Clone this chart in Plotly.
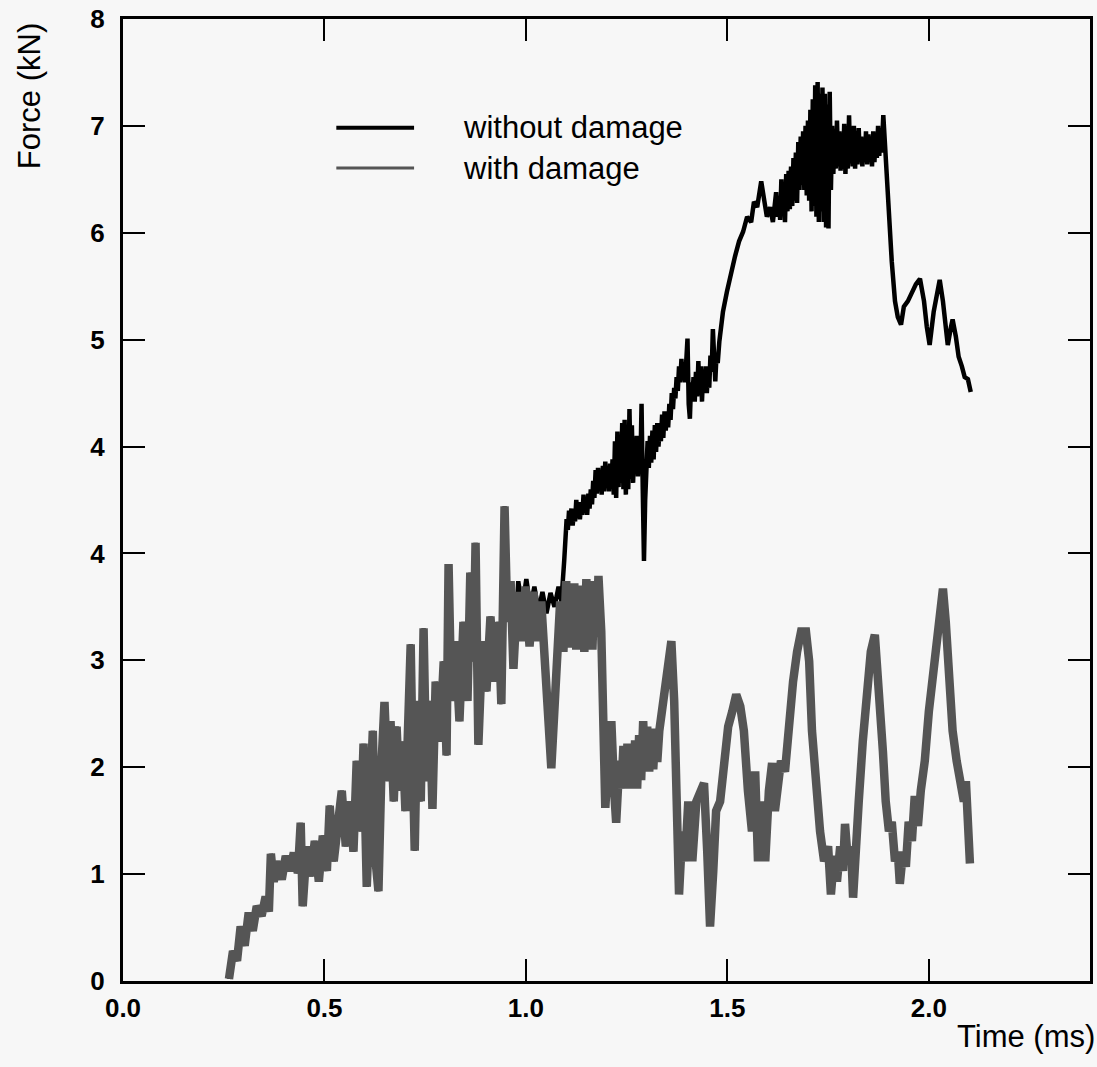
import plotly.graph_objects as go

# ---- data (time in ms, force in axis units; y tick labels reproduce the original scale labels) ----
t_with = [0.263, 0.273, 0.283, 0.292, 0.302, 0.312, 0.322, 0.332, 0.344, 0.354, 0.362, 0.367, 0.374, 0.384,
          0.394, 0.404, 0.414, 0.424, 0.434, 0.441, 0.446, 0.456, 0.466, 0.476, 0.486, 0.496, 0.506, 0.513,
          0.523, 0.533, 0.543, 0.553, 0.563, 0.572, 0.580, 0.590, 0.597, 0.605, 0.612, 0.620, 0.627, 0.634,
          0.642, 0.649, 0.657, 0.664, 0.672, 0.679, 0.686, 0.694, 0.701, 0.709, 0.714, 0.719, 0.724, 0.731,
          0.739, 0.746, 0.753, 0.761, 0.768, 0.776, 0.786, 0.796, 0.803, 0.808, 0.815, 0.825, 0.835, 0.845,
          0.855, 0.862, 0.870, 0.875, 0.882, 0.892, 0.902, 0.912, 0.922, 0.932, 0.939, 0.947, 0.954, 0.962,
          0.969, 0.979, 0.989, 0.999, 1.009, 1.019, 1.028, 1.038, 1.048, 1.056, 1.063, 1.071, 1.078, 1.085,
          1.093, 1.100, 1.105, 1.110, 1.115, 1.120, 1.125, 1.130, 1.135, 1.140, 1.145, 1.150, 1.155, 1.160,
          1.165, 1.170, 1.175, 1.180, 1.187, 1.192, 1.197, 1.204,
          1.212, 1.219, 1.224, 1.232, 1.237, 1.242, 1.247, 1.252, 1.257, 1.261, 1.266, 1.271, 1.276, 1.281,
          1.286, 1.291, 1.296, 1.301, 1.306, 1.311, 1.316, 1.321, 1.326, 1.331,
          1.341, 1.351, 1.361, 1.368, 1.375, 1.380, 1.388, 1.395, 1.403, 1.413, 1.423, 1.432, 1.442, 1.450,
          1.457, 1.465, 1.472, 1.482, 1.492, 1.502, 1.512, 1.522, 1.532, 1.541, 1.551, 1.561, 1.569, 1.576,
          1.586, 1.594, 1.603, 1.611, 1.618, 1.626, 1.633, 1.643, 1.653, 1.663, 1.673, 1.683, 1.695, 1.703,
          1.710, 1.720, 1.730, 1.740, 1.750, 1.757, 1.765, 1.772, 1.780, 1.787, 1.792, 1.799, 1.807, 1.812,
          1.819, 1.826, 1.836, 1.846, 1.856, 1.866, 1.876, 1.886, 1.893, 1.901, 1.908, 1.916, 1.923, 1.928,
          1.936, 1.943, 1.950, 1.958, 1.965, 1.973, 1.980, 1.990, 2.000, 2.010, 2.020, 2.030, 2.035, 2.042,
          2.050, 2.059, 2.069, 2.079, 2.087, 2.092, 2.097, 2.102]
f_with = [0.02, 0.28, 0.19, 0.51, 0.33, 0.64, 0.47, 0.70, 0.61, 0.79, 0.65, 1.19, 0.93, 1.12,
          0.95, 1.17, 1.03, 1.20, 1.01, 1.48, 0.70, 1.26, 0.98, 1.31, 0.93, 1.36, 1.03, 1.64,
          1.12, 1.54, 1.78, 1.26, 1.68, 1.21, 2.06, 1.40, 2.22, 0.88, 1.87, 2.34, 1.12, 0.84,
          2.06, 2.61, 1.87, 2.43, 1.68, 2.38, 1.78, 2.24, 1.59, 2.71, 3.15, 2.06, 1.22, 2.62,
          1.68, 3.30, 1.87, 2.62, 1.61, 2.80, 2.24, 2.99, 2.11, 3.90, 2.62, 3.18, 2.43, 3.36,
          2.62, 3.82, 2.99, 4.10, 2.21, 3.18, 2.71, 3.41, 2.80, 3.36, 2.59, 4.44, 3.36, 3.74,
          2.92, 3.64, 3.18, 3.69, 3.13, 3.64, 3.18, 3.55, 2.68, 2.43, 1.99, 2.62, 3.18, 3.55,
          3.08, 3.74, 3.12, 3.70, 3.15, 3.72, 3.10, 3.66, 3.14, 3.70, 3.08, 3.76, 3.20, 3.74,
          3.10, 3.68, 3.22, 3.79, 3.27, 2.62, 1.62, 2.06,
          2.43, 1.78, 1.48, 2.06, 1.80, 2.20, 1.85, 2.22, 1.80, 2.15, 1.84, 2.25, 1.80, 2.30,
          1.88, 2.43, 2.01, 2.38, 1.96, 2.36, 1.98, 2.34, 2.05, 2.34,
          2.62, 2.94, 3.18, 2.62, 1.68, 0.81, 1.40, 1.12, 1.68, 1.12, 1.68, 1.78, 1.85, 1.21,
          0.51, 1.03, 1.59, 1.68, 2.15, 2.38, 2.52, 2.68, 2.57, 2.34, 1.78, 1.40, 1.96, 1.12,
          1.68, 1.12, 1.78, 2.04, 1.59, 1.78, 2.06, 1.96, 2.43, 2.80, 3.08, 3.27, 3.27, 2.99,
          2.34, 1.78, 1.40, 1.12, 1.26, 0.81, 1.17, 0.93, 1.26, 1.03, 1.47, 1.12, 1.26, 0.78,
          1.12, 1.68, 2.24, 2.71, 3.08, 3.24, 2.80, 2.15, 1.68, 1.40, 1.49, 1.12, 1.21, 0.91,
          1.21, 1.07, 1.49, 1.31, 1.73, 1.45, 1.78, 2.06, 2.52, 2.90, 3.08, 3.55, 3.67, 3.36,
          2.80, 2.34, 2.06, 1.78, 1.68, 1.87, 1.40, 1.10]

t_without = [0.263, 0.273, 0.283, 0.292, 0.302, 0.312, 0.322, 0.332, 0.344, 0.354, 0.362, 0.367, 0.374, 0.384,
             0.394, 0.404, 0.414, 0.424, 0.434, 0.441, 0.446, 0.456, 0.466, 0.476, 0.486, 0.496, 0.506, 0.513,
             0.523, 0.533, 0.543, 0.553, 0.563, 0.572, 0.580, 0.590, 0.597, 0.605, 0.612, 0.620, 0.627, 0.634,
             0.642, 0.649, 0.657, 0.664, 0.672, 0.679, 0.686, 0.694, 0.701, 0.709, 0.714, 0.719, 0.724, 0.731,
             0.739, 0.746, 0.753, 0.761, 0.768, 0.776, 0.786, 0.796, 0.803, 0.808, 0.815, 0.825, 0.835, 0.845,
             0.855, 0.862, 0.870, 0.875, 0.882, 0.892, 0.902, 0.912, 0.922, 0.932, 0.939, 0.947, 0.954, 0.962,
             0.969, 0.981, 0.991, 1.001, 1.011, 1.021, 1.031, 1.041, 1.051, 1.061, 1.071, 1.081, 1.088,
             1.095, 1.098, 1.101, 1.104, 1.107, 1.110, 1.113, 1.116, 1.119, 1.122, 1.125, 1.128, 1.131, 1.134,
             1.137, 1.140, 1.143, 1.146, 1.149, 1.152, 1.155, 1.158, 1.161, 1.164, 1.167, 1.170, 1.173, 1.176,
             1.179, 1.182, 1.185, 1.188, 1.191, 1.194, 1.197, 1.200, 1.203, 1.206, 1.209, 1.212, 1.215, 1.218,
             1.221, 1.224, 1.227, 1.230, 1.233, 1.236, 1.239, 1.242, 1.245, 1.248, 1.251, 1.254, 1.257, 1.260,
             1.263, 1.266, 1.269, 1.272, 1.275, 1.278, 1.281, 1.284, 1.287, 1.290, 1.293, 1.296, 1.299, 1.302,
             1.305, 1.308, 1.311, 1.314, 1.317, 1.320, 1.323, 1.326, 1.329, 1.332, 1.335, 1.338, 1.341, 1.344,
             1.347, 1.350, 1.353, 1.356, 1.359, 1.362, 1.365, 1.368, 1.371, 1.374, 1.377, 1.380, 1.383, 1.386,
             1.389, 1.392, 1.395, 1.398, 1.401, 1.404, 1.407, 1.410, 1.413, 1.416, 1.419, 1.422, 1.425, 1.428,
             1.431, 1.434, 1.437, 1.440, 1.443, 1.446, 1.449, 1.452, 1.455, 1.458, 1.461, 1.464, 1.467, 1.470,
             1.473, 1.476, 1.480, 1.489, 1.499, 1.509, 1.519, 1.529, 1.539, 1.549, 1.559, 1.566, 1.574, 1.584,
             1.591, 1.598, 1.606, 1.613, 1.621, 1.624, 1.628, 1.631, 1.634, 1.637, 1.640, 1.643, 1.646, 1.649,
             1.652, 1.655, 1.658, 1.661, 1.664, 1.667, 1.670, 1.673, 1.676, 1.679, 1.682, 1.685, 1.688, 1.691,
             1.694, 1.697, 1.700, 1.703, 1.706, 1.709, 1.712, 1.715, 1.718, 1.721, 1.724, 1.727, 1.730, 1.733,
             1.736, 1.739, 1.742, 1.745, 1.748, 1.751, 1.754, 1.757, 1.760, 1.763, 1.766, 1.769, 1.772, 1.775,
             1.778, 1.781, 1.784, 1.787, 1.790, 1.793, 1.796, 1.799, 1.802, 1.805, 1.808, 1.811, 1.814, 1.817,
             1.820, 1.823, 1.826, 1.829, 1.832, 1.835, 1.838, 1.841, 1.844, 1.847, 1.850, 1.853, 1.856, 1.859,
             1.862, 1.865, 1.868, 1.871, 1.874, 1.877, 1.880, 1.883, 1.887, 1.890, 1.893, 1.896,
             1.901, 1.908, 1.916, 1.923, 1.931, 1.938, 1.948, 1.958, 1.968,
             1.978, 1.988, 1.995, 2.002, 2.012, 2.022, 2.027, 2.035, 2.042, 2.047, 2.055, 2.059, 2.067,
             2.074, 2.082, 2.089, 2.097, 2.104]
f_without = [0.02, 0.28, 0.19, 0.51, 0.33, 0.64, 0.47, 0.70, 0.61, 0.79, 0.65, 1.19, 0.93, 1.12,
             0.95, 1.17, 1.03, 1.20, 1.01, 1.48, 0.70, 1.26, 0.98, 1.31, 0.93, 1.36, 1.03, 1.64,
             1.12, 1.54, 1.78, 1.26, 1.68, 1.21, 2.06, 1.40, 2.22, 0.88, 1.87, 2.34, 1.12, 0.84,
             2.06, 2.61, 1.87, 2.43, 1.68, 2.38, 1.78, 2.24, 1.59, 2.71, 3.15, 2.06, 1.22, 2.62,
             1.68, 3.30, 1.87, 2.62, 1.61, 2.80, 2.24, 2.99, 2.11, 3.90, 2.62, 3.18, 2.43, 3.36,
             2.62, 3.82, 2.99, 4.10, 2.21, 3.18, 2.71, 3.41, 2.80, 3.36, 2.59, 4.44, 3.36, 3.74,
             2.92, 3.74, 3.50, 3.76, 3.50, 3.69, 3.46, 3.64, 3.44, 3.63, 3.50, 3.69, 3.55,
             3.93, 4.20, 4.32, 4.22, 4.40, 4.28, 4.42, 4.26, 4.38, 4.30, 4.50, 4.34, 4.48, 4.32,
             4.46, 4.36, 4.55, 4.38, 4.52, 4.36, 4.56, 4.42, 4.60, 4.46, 4.68, 4.52, 4.78, 4.56,
             4.80, 4.60, 4.75, 4.55, 4.82, 4.58, 4.86, 4.62, 4.80, 4.58, 4.84, 4.62, 4.88, 4.55,
             5.05, 4.52, 5.14, 4.62, 5.10, 4.66, 5.22, 4.60, 5.25, 4.55, 5.10, 4.60, 5.35, 4.70,
             5.20, 4.66, 5.05, 4.75, 5.10, 4.72, 5.00, 4.80, 5.40, 4.60, 3.93, 4.50, 4.85, 5.05,
             4.80, 5.10, 4.85, 5.15, 4.88, 5.20, 4.95, 5.22, 5.00, 5.18, 5.05, 5.30, 5.08, 5.33,
             5.15, 5.30, 5.18, 5.40, 5.25, 5.50, 5.35, 5.55, 5.45, 5.65, 5.52, 5.75, 5.60, 5.82,
             5.62, 5.75, 5.60, 5.85, 6.01, 5.40, 5.26, 5.60, 5.45, 5.65, 5.42, 5.70, 5.47, 5.80,
             5.50, 5.75, 5.42, 5.72, 5.55, 5.75, 5.50, 5.70, 5.55, 5.85, 5.70, 6.10, 5.65, 5.61,
             5.85, 5.78, 5.98, 6.26, 6.45, 6.64, 6.78, 6.92, 7.01, 7.15, 7.10, 7.29, 7.24, 7.48,
             7.29, 7.15, 7.24, 7.10, 7.38, 7.15, 7.30, 7.12, 7.50, 7.20, 7.45, 7.10, 7.55, 7.20,
             7.58, 7.22, 7.62, 7.25, 7.70, 7.30, 7.75, 7.28, 7.85, 7.40, 7.90, 7.45, 7.95, 7.40,
             8.00, 7.35, 8.05, 7.30, 8.15, 7.20, 8.25, 7.25, 8.38, 7.15, 8.41, 7.10, 8.30, 7.20,
             8.36, 7.10, 8.30, 7.05, 8.20, 7.04, 8.32, 7.40, 8.00, 7.55, 7.95, 7.60, 8.05, 7.62,
             7.95, 7.58, 7.92, 7.60, 8.02, 7.55, 7.98, 7.60, 8.10, 7.65, 7.90, 7.62, 8.00, 7.60,
             7.95, 7.64, 7.98, 7.66, 7.90, 7.62, 7.88, 7.66, 7.95, 7.64, 7.92, 7.66, 7.90, 7.62,
             7.95, 7.66, 7.92, 7.70, 8.00, 7.72, 7.98, 7.75, 8.10, 7.90, 7.70, 7.55,
             7.29, 6.73, 6.36, 6.21, 6.14, 6.31, 6.36, 6.45, 6.52,
             6.57, 6.36, 6.12, 5.95, 6.26, 6.50, 6.56, 6.36, 6.12, 5.95, 6.12, 6.19, 6.03,
             5.84, 5.75, 5.65, 5.63, 5.51]

x_tick_vals = [0.0, 0.5, 1.0, 1.5, 2.0]
x_tick_text = ["0.0", "0.5", "1.0", "1.5", "2.0"]
y_tick_vals = [0, 1, 2, 3, 4, 5, 6, 7, 8, 9]
y_tick_text = ["0", "1", "2", "3", "4", "4", "5", "6", "7", "8"]
series_names = ["without damage", "with damage"]

BLACK = "#000000"
GRAY = "#555555"
BG = "#f7f7f7"
FONT = "Liberation Sans"

fig = go.Figure()
fig.add_trace(go.Scatter(x=t_without, y=f_without, mode="lines", name=series_names[0],
                         line=dict(color=BLACK, width=4.5), showlegend=False))
fig.add_trace(go.Scatter(x=t_with, y=f_with, mode="lines", name=series_names[1],
                         line=dict(color=GRAY, width=8.5), showlegend=False))

axis_common = dict(showline=True, linewidth=3, linecolor=BLACK, mirror="ticks",
                   ticks="inside", ticklen=22, tickwidth=2, tickcolor=BLACK,
                   showgrid=False, zeroline=False,
                   tickfont=dict(family=FONT, size=26, color=BLACK, weight="bold"))

fig.update_xaxes(range=[0, 2.40], tickvals=x_tick_vals, ticktext=x_tick_text,
                 ticklabelstandoff=2, **axis_common)
fig.update_yaxes(range=[0, 9], tickvals=y_tick_vals, ticktext=y_tick_text,
                 ticklabelstandoff=10, **axis_common)

# manual legend (line samples + labels)
leg_rows = [(0.887, BLACK, 4, series_names[0]), (0.845, GRAY, 3, series_names[1])]
for yy, col, w, txt in leg_rows:
    fig.add_shape(type="line", xref="paper", yref="paper", x0=0.2206, x1=0.301, y0=yy, y1=yy,
                  line=dict(color=col, width=w))
    fig.add_annotation(xref="paper", yref="paper", x=0.3495, y=yy, text=txt, showarrow=False,
                       xanchor="left", yanchor="middle",
                       font=dict(family=FONT, size=31, color=BLACK))

fig.add_annotation(xref="paper", yref="paper", x=-0.096, y=0.92, text="Force (kN)", textangle=-90,
                   showarrow=False, xanchor="center", yanchor="middle",
                   font=dict(family=FONT, size=31, color=BLACK))
fig.add_annotation(xref="paper", yref="paper", x=0.934, y=-0.058, text="Time (ms)",
                   showarrow=False, xanchor="center", yanchor="middle",
                   font=dict(family=FONT, size=31, color=BLACK))

fig.update_layout(width=1097, height=1067,
                  margin=dict(l=123, r=4, t=17, b=86),
                  paper_bgcolor=BG, plot_bgcolor=BG,
                  showlegend=False)

fig.write_html("out.html", config={"displayModeBar": False},
               post_script="document.body.style.margin='0';document.body.style.background='#f7f7f7';")
